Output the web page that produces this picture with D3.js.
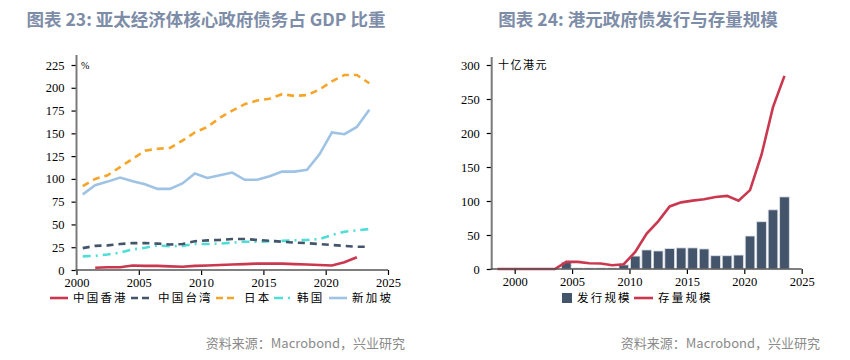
<!DOCTYPE html>
<html><head><meta charset="utf-8">
<script src="https://cdn.jsdelivr.net/npm/d3@7"></script>
<style>
body{margin:0;background:#fff;}
svg{display:block;}
.tick text{font-family:"Liberation Serif","Times New Roman",serif;font-size:12.5px;fill:#000;}
</style></head>
<body><svg id="c" width="850" height="360"></svg>
<script>
// ---- Chart 23 data (ratio of govt debt to GDP, %) ----
const years23 = d3.range(2000, 2024);
const hongkong = [null,2.5,3,3,5,4.5,4.5,4,3.5,4.5,5,5.5,6,6.5,7,7,7,6.5,6,5.5,5,8.5,14,null];
const taiwan   = [24,26.5,27,28.5,29.5,29.5,29,28,28.5,31.5,32.5,33,34,34,33,32,31,30,29.5,28.5,27.5,26.5,25.5,25.5];
const japan    = [92,100,104,113,122,131,133,134,142,151,157,167,175,182,186,188,193,191,192,198,207,214,214,205];
const korea    = [15,15.5,17,19,22.5,24.5,27,26,26.5,28.5,28.5,29,30,31,31,31.5,32,32.5,33,34,38.5,42,43.5,45];
const singapore= [83,93,97,101.5,97.5,94,89,89,95,106,101,104,107,99,99,103,108,108,110,127,151,149,157,176];
const yTicks23 = [0,25,50,75,100,125,150,175,200,225];
const xTicks = [2000,2005,2010,2015,2020,2025];
const series23 = [
  {name:"中国香港", values:hongkong, color:"#c9384f", dash:null},
  {name:"中国台湾", values:taiwan, color:"#44546a", dash:"7,5"},
  {name:"日本", values:japan, color:"#f5a52a", dash:"7,5"},
  {name:"韩国", values:korea, color:"#4fded6", dash:"8,5,2,5"},
  {name:"新加坡", values:singapore, color:"#9fc3e4", dash:null}
];
// ---- Chart 24 data (HKD govt bonds, HKD bn) ----
const years24 = d3.range(1998, 2024);
const issuance = [0,0,0,0,0,0,10,1.5,1.5,1.5,1.5,6,19,28,26.5,30,31,31,29.5,19.5,19.5,20.5,48.5,69.5,87,106];
const stock    = [0,0,0,0,0,0,10.5,10.5,8.5,8,5.5,7,25,52,70,92,98,100.5,102.5,106,107.5,100.5,116,168,238,284];
const yTicks24 = [0,50,100,150,200,250,300];

const svg = d3.select("#c");
const cjk = "'Noto Sans CJK SC','Noto Sans',sans-serif";

// Titles
svg.append("text").attr("x",206).attr("y",26).attr("text-anchor","middle")
  .attr("font-family",cjk).attr("font-weight","bold").attr("font-size",17.5).attr("fill","#7d8da8")
  .text("图表 23: 亚太经济体核心政府债务占 GDP 比重");
svg.append("text").attr("x",638).attr("y",26).attr("text-anchor","middle")
  .attr("font-family",cjk).attr("font-weight","bold").attr("font-size",17.5).attr("fill","#7d8da8")
  .text("图表 24: 港元政府债发行与存量规模");

function axes(g, x, y, yt, top){
  const [x0,x1] = x.range(), y0 = y.range()[0];
  const ya = g.append("g").attr("transform",`translate(${x0},0)`)
    .call(d3.axisLeft(y).tickValues(yt).tickSize(5).tickPadding(7).tickFormat(d3.format("d")));
  ya.select(".domain").remove();
  ya.selectAll(".tick line").attr("stroke","#000").attr("stroke-width",1.2);
  const xa = g.append("g").attr("transform",`translate(0,${y0})`)
    .call(d3.axisBottom(x).tickValues(xTicks).tickSize(5).tickPadding(3).tickFormat(d3.format("d")));
  xa.select(".domain").remove();
  xa.selectAll(".tick line").attr("stroke","#000").attr("stroke-width",1.2);
  g.append("line").attr("x1",x0).attr("x2",x0).attr("y1",top).attr("y2",y0+1)
    .attr("stroke","#7a7a7a").attr("stroke-width",2);
  g.append("line").attr("x1",x0-1).attr("x2",x1).attr("y1",y0).attr("y2",y0)
    .attr("stroke","#555").attr("stroke-width",1.5);
}

// ---------- Chart 23 ----------
{
  const g = svg.append("g");
  const x = d3.scaleLinear().domain([2000,2025]).range([76.5,388]);
  const y = d3.scaleLinear().domain([0,225]).range([270,65]);
  const line = d3.line().defined(d=>d.v!=null).x(d=>x(d.yr+0.5)).y(d=>y(d.v));
  // draw order: singapore, korea, japan, taiwan, hk on top
  [4,3,2,1,0].forEach(i=>{
    const s = series23[i];
    g.append("path").datum(years23.map((yr,j)=>({yr,v:s.values[j]})))
      .attr("d",line).attr("fill","none").attr("stroke",s.color).attr("stroke-width",2.6)
      .attr("stroke-dasharray",s.dash);
  });
  axes(g,x,y,yTicks23,55);
  g.append("text").attr("x",81).attr("y",69).attr("font-family","'Liberation Serif',serif")
    .attr("font-size",10).text("%");
  // legend
  const lg = svg.append("g").attr("font-family",cjk).attr("font-size",11.5).attr("letter-spacing","2.2px");
  const items = [[50,73],[131,158],[216,244],[274,297],[329,352]];
  series23.forEach((s,i)=>{
    lg.append("line").attr("x1",items[i][0]).attr("x2",items[i][0]+18).attr("y1",298).attr("y2",298)
      .attr("stroke",s.color).attr("stroke-width",2.6).attr("stroke-dasharray",s.dash?(s.dash==="8,5,2,5"?"9,5,2,5":"7,4"):null);
    lg.append("text").attr("x",items[i][1]).attr("y",302).text(s.name);
  });
}

// ---------- Chart 24 ----------
{
  const g = svg.append("g");
  const x = d3.scaleLinear().domain([1998,2025]).range([491.7,801.7]);
  const y = d3.scaleLinear().domain([0,300]).range([269,65]);
  const bw = (x(1999)-x(1998))*0.84;
  g.selectAll("rect.bar").data(years24.map((yr,i)=>({yr,v:issuance[i]})).filter(d=>d.v>0))
    .enter().append("rect").attr("class","bar")
    .attr("x",d=>x(d.yr+0.5)-bw/2).attr("width",bw)
    .attr("y",d=>y(d.v)).attr("height",d=>y(0)-y(d.v))
    .attr("fill","#44546a").attr("stroke","#dde1e8").attr("stroke-width",0.8);
  const line = d3.line().x(d=>x(d.yr+0.5)).y(d=>y(d.v));
  g.append("path").datum(years24.map((yr,i)=>({yr,v:stock[i]})))
    .attr("d",line).attr("fill","none").attr("stroke","#c9384f").attr("stroke-width",2.6);
  axes(g,x,y,yTicks24,57);
  g.append("text").attr("x",498).attr("y",69).attr("font-family",cjk)
    .attr("font-size",11).attr("letter-spacing","1.5px").text("十亿港元");
  const lg = svg.append("g").attr("font-family",cjk).attr("font-size",11.5).attr("letter-spacing","2.2px");
  lg.append("rect").attr("x",562).attr("y",293).attr("width",10).attr("height",10).attr("fill","#44546a");
  lg.append("text").attr("x",577).attr("y",302).text("发行规模");
  lg.append("line").attr("x1",634).attr("x2",653).attr("y1",298).attr("y2",298)
    .attr("stroke","#c9384f").attr("stroke-width",2.6);
  lg.append("text").attr("x",658).attr("y",302).text("存量规模");
}

// Sources
[[405,"end"],[820,"end"]].forEach(([xx,a])=>{
  svg.append("text").attr("x",xx).attr("y",348).attr("text-anchor",a)
    .attr("font-family",cjk).attr("font-size",13).attr("fill","#8a8a8a")
    .text("资料来源：Macrobond，兴业研究");
});
</script></body></html>
